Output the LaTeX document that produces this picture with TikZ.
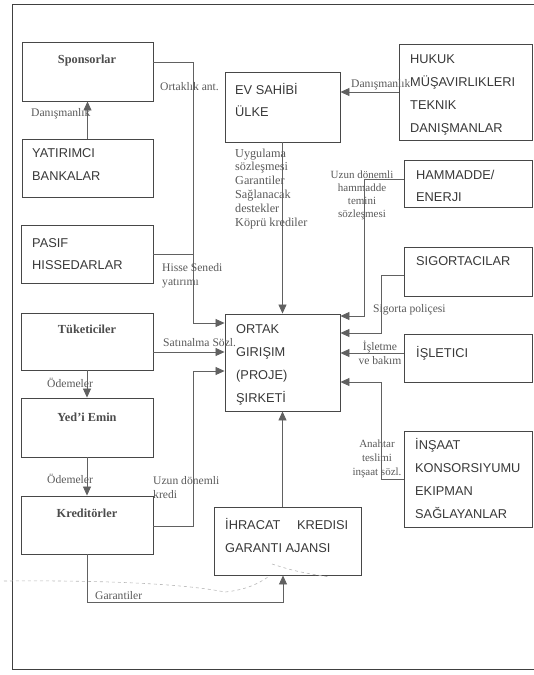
\documentclass[tikz,border=0pt]{standalone}
\usepackage{fontspec}
\setmainfont{Liberation Serif}
\setsansfont{Liberation Sans}
\usetikzlibrary{arrows.meta,fit}
\begin{document}
\begin{tikzpicture}[x=1pt,y=-1pt,
  box/.style={draw=black!72, line width=0.9pt, inner sep=0pt, rectangle},
  boxtext/.style={font=\sffamily\fontsize{12.8}{23}\selectfont, text=black!78, anchor=base west, inner sep=0pt, align=left},
  sertext/.style={font=\bfseries\fontsize{12.3}{15}\selectfont, text=black!70, anchor=base, inner sep=0pt},
  lab/.style={font=\fontsize{11.6}{14}\selectfont, text=black!65, inner sep=0pt},
  conn/.style={draw=black!62, line width=0.8pt},
  arr/.style={conn, -{Triangle[length=9pt,width=8pt]}},
  fold/.style={draw=black!28, dashed, line width=0.6pt},
]
\useasboundingbox (0,0) rectangle (534,675);
\clip (0,0) rectangle (534,675);

% outer frame
\draw[black!75, line width=0.9pt] (12,4) rectangle (545,669);

% boxes
\node[box, fit={(22,42) (153,101)}]   (spons) {};
\node[box, fit={(22,139) (153,197)}]  (yat) {};
\node[box, fit={(21,225) (153,283)}]  (pasif) {};
\node[box, fit={(21,313) (153,370)}]  (tuk) {};
\node[box, fit={(21,398) (153,457)}]  (yed) {};
\node[box, fit={(21,496) (153,554)}]  (kred) {};
\node[box, fit={(225,72) (340,142)}]  (ev) {};
\node[box, fit={(225,314) (340,411)}] (ortak) {};
\node[box, fit={(214,507) (361,575)}] (ica) {};
\node[box, fit={(399,44) (532,140)}]  (hukuk) {};
\node[box, fit={(404,160) (532,207)}] (ham) {};
\node[box, fit={(404,247) (532,296)}] (sig) {};
\node[box, fit={(404,334) (532,382)}] (isl) {};
\node[box, fit={(404,431) (532,527)}] (ins) {};

% box texts (multi-line nodes are placed by the baseline of their last line)
\node[sertext] (spons-t) at (87,63) {Sponsorlar};
\node[boxtext] (yat-t) at (32,180) {YATIRIMCI\\BANKALAR};
\node[boxtext, font=\sffamily\fontsize{12.8}{22}\selectfont] (pasif-t) at (32,269) {PASIF\\HISSEDARLAR};
\node[sertext] (tuk-t) at (87,333) {Tüketiciler};
\node[sertext] (yed-t) at (87,421) {Yed’i Emin};
\node[sertext] (kred-t) at (87,517) {Kreditörler};
\node[boxtext, font=\sffamily\fontsize{12.8}{22}\selectfont] (ev-t) at (235,116) {EV SAHİBİ\\ÜLKE};
\node[boxtext] (ortak-t) at (236,402) {ORTAK\\GIRIŞIM\\(PROJE)\\ŞIRKETİ};
\node[boxtext] (ica-t) at (225,552) {İHRACAT\hspace{1.3em}KREDISI\\GARANTI AJANSI};
\node[boxtext] (hukuk-t) at (410,132) {HUKUK\\MÜŞAVIRLIKLERI\\TEKNIK\\DANIŞMANLAR};
\node[boxtext, font=\sffamily\fontsize{12.8}{22}\selectfont] (ham-t) at (416,201) {HAMMADDE/\\ENERJI};
\node[boxtext] (sig-t) at (416,265) {SIGORTACILAR};
\node[boxtext] (isl-t) at (416,357) {İŞLETICI};
\node[boxtext] (ins-t) at (415,518) {İNŞAAT\\KONSORSIYUMU\\EKIPMAN\\SAĞLAYANLAR};

% connectors on the left side
\draw[arr] (spons.east |- 0,62) -| (193,323) -- (ortak.west |- 0,323);
\draw[arr] (yat.north) -- (spons.south);
\draw[conn] (pasif.east |- 0,254) -- (193,254);
\draw[arr] (tuk.east |- 0,352) -- (ortak.west |- 0,352);
\draw[arr] (tuk.south) -- (yed.north);
\draw[arr] (yed.south) -- (kred.north);
\draw[arr] (kred.east |- 0,526) -| (193,371) -- (ortak.west |- 0,371);
\draw[arr] (kred.south) |- (283,602) -- (ica.south -| 283,0);
\draw[arr] (ica.north -| ortak.south) -- (ortak.south);

% connectors on the right side
\draw[arr] (ev.south) -- (ortak.north);
\draw[arr] (hukuk.west |- 0,92) -- (ev.east |- 0,92);
\draw[arr] (ham.west |- 0,179) -| (364,316) -- (ortak.east |- 0,316);
\draw[arr] (sig.west |- 0,275) -| (381,333) -- (ortak.east |- 0,333);
\draw[arr] (isl.west |- 0,353) -- (ortak.east |- 0,353);
\draw[arr] (ins.west |- 0,479) -| (381,382) -- (ortak.east |- 0,382);

% connector labels
\node[lab, anchor=base west] (l-ort) at (160,90) {Ortaklık ant.};
\node[lab, anchor=base west] (l-dan1) at (31,116) {Danışmanlık};
\node[lab, anchor=base west, align=left] (l-his) at (162,285) {Hisse Senedi\\yatırımı};
\node[lab, anchor=base west] (l-sat) at (163,346) {Satınalma Sözl.};
\node[lab, anchor=base west] (l-ode1) at (47,387) {Ödemeler};
\node[lab, anchor=base west] (l-ode2) at (47,483) {Ödemeler};
\node[lab, anchor=base west, align=left] (l-uzk) at (153,498) {Uzun dönemli\\kredi};
\node[lab, anchor=base west] (l-gar) at (95,599) {Garantiler};
\node[lab, anchor=base west, align=left, font=\fontsize{12.2}{13.8}\selectfont] (l-ev) at (235,226)
  {Uygulama\\sözleşmesi\\Garantiler\\Sağlanacak\\destekler\\Köprü krediler};
\node[lab, anchor=base west] (l-dan2) at (351,87) {Danışmanlık};
\node[lab, anchor=base, align=center, font=\fontsize{11}{13}\selectfont] (l-ham) at (362,217)
  {Uzun dönemli\\hammadde\\temini\\sözleşmesi};
\node[lab, anchor=base west] (l-sig) at (373,312) {Sigorta poliçesi};
\node[lab, anchor=base, align=center] (l-isl) at (380,364) {İşletme\\ve bakım};
\node[lab, anchor=base, align=center, font=\fontsize{11}{14}\selectfont] (l-ins) at (377,475)
  {Anahtar\\teslimi\\inşaat sözl.};

% fold mark across the sheet
\draw[fold] (4,581) .. controls (120,580) and (190,585) .. (225,592)
  .. controls (245,590) and (258,584) .. (268,577);
\draw[fold] (272,564) .. controls (285,568) and (295,572) .. (330,577);
\end{tikzpicture}
\end{document}
